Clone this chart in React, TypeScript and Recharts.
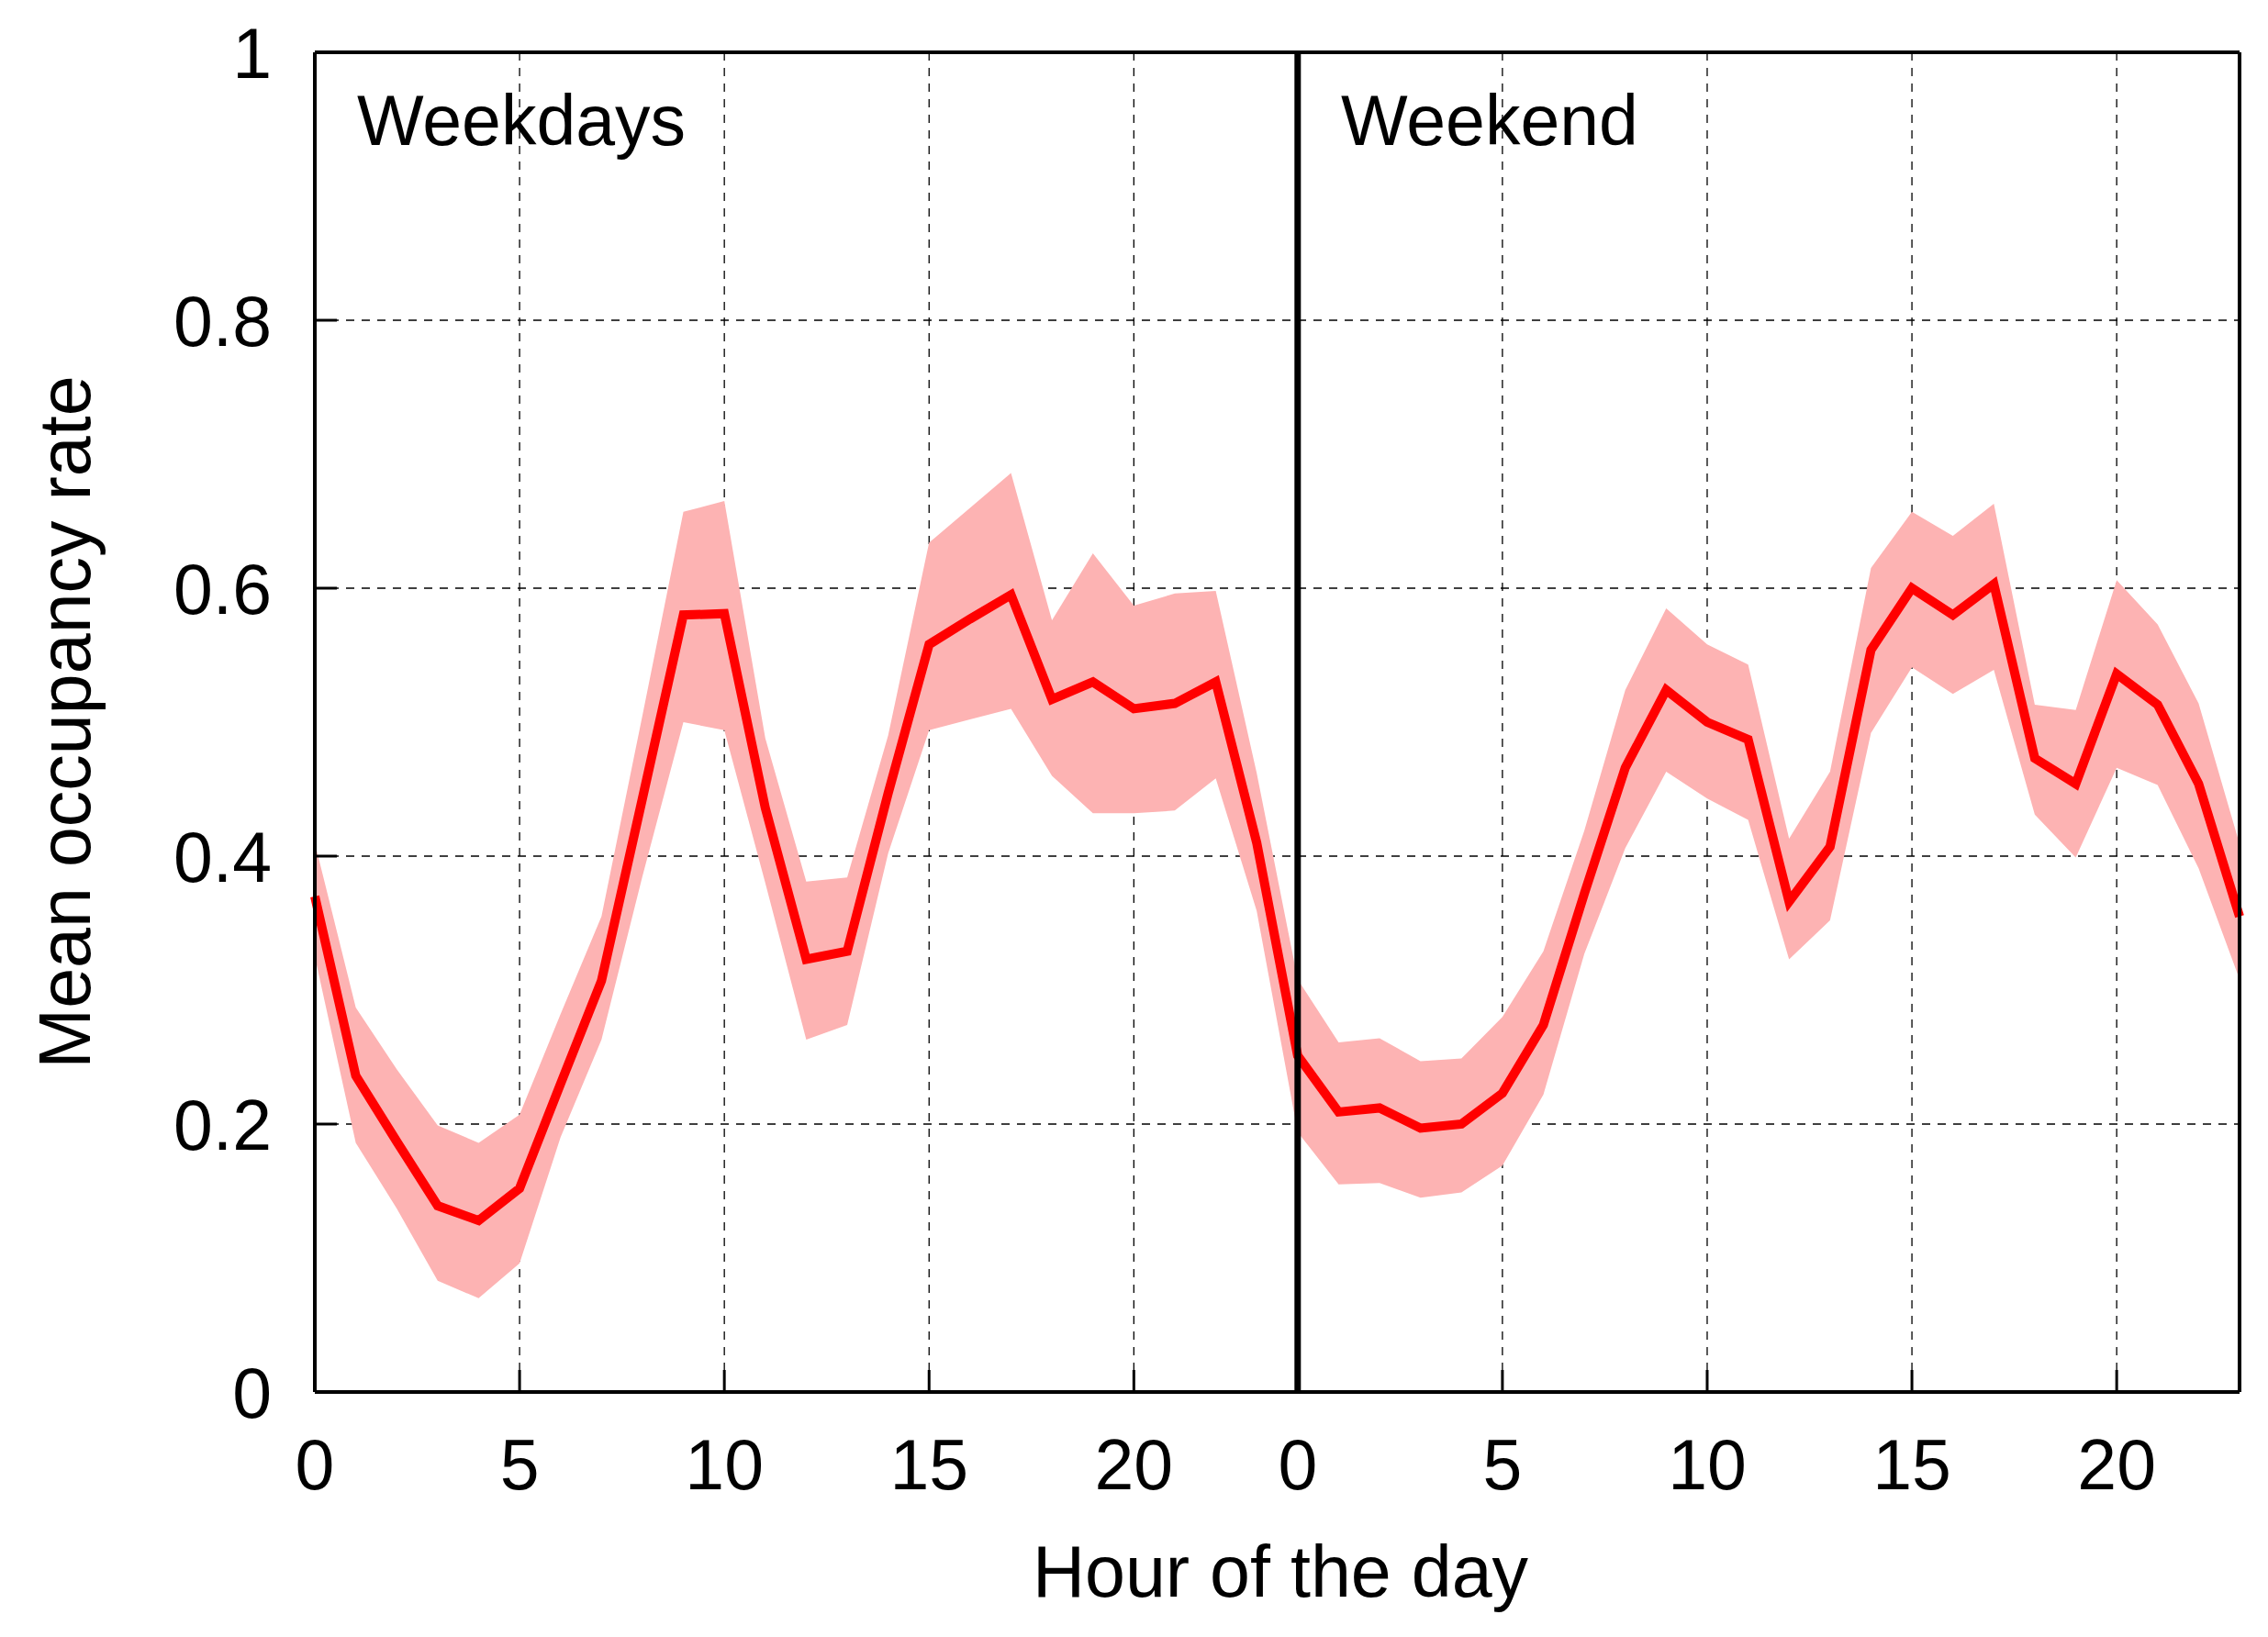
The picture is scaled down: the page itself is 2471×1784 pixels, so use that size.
import { ComposedChart, Line, Area, XAxis, YAxis, CartesianGrid, ReferenceLine } from "recharts";

// mean occupancy per hour, with the shaded spread (low / high)
const weekdayMean = [0.37, 0.236, 0.187, 0.139, 0.128, 0.152, 0.23, 0.307, 0.443, 0.58, 0.581, 0.436, 0.323, 0.329, 0.447, 0.558, 0.577, 0.595, 0.517, 0.53, 0.51, 0.514, 0.53, 0.41];
const weekdayHigh = [0.41, 0.287, 0.241, 0.199, 0.186, 0.207, 0.282, 0.355, 0.505, 0.657, 0.665, 0.488, 0.381, 0.384, 0.49, 0.634, 0.66, 0.686, 0.576, 0.626, 0.587, 0.596, 0.598, 0.462];
const weekdayLow = [0.325, 0.186, 0.137, 0.083, 0.07, 0.096, 0.19, 0.263, 0.385, 0.5, 0.494, 0.38, 0.263, 0.274, 0.402, 0.494, 0.502, 0.51, 0.46, 0.432, 0.432, 0.434, 0.458, 0.359];

const weekendMean = [0.251, 0.209, 0.212, 0.197, 0.2, 0.223, 0.274, 0.372, 0.466, 0.524, 0.5, 0.487, 0.366, 0.407, 0.554, 0.6, 0.58, 0.603, 0.473, 0.454, 0.536, 0.513, 0.454, 0.355];
const weekendHigh = [0.308, 0.261, 0.264, 0.247, 0.249, 0.28, 0.329, 0.419, 0.524, 0.585, 0.558, 0.543, 0.413, 0.463, 0.615, 0.657, 0.639, 0.663, 0.513, 0.509, 0.606, 0.573, 0.514, 0.409];
const weekendLow = [0.194, 0.155, 0.156, 0.145, 0.149, 0.169, 0.222, 0.327, 0.406, 0.463, 0.443, 0.427, 0.323, 0.352, 0.492, 0.541, 0.521, 0.539, 0.431, 0.399, 0.466, 0.453, 0.391, 0.308];

const xTicks = [0, 5, 10, 15, 20, 24, 29, 34, 39, 44];
const xTickLabels = ["0", "5", "10", "15", "20", "0", "5", "10", "15", "20"];
const yTicks = [0, 0.2, 0.4, 0.6, 0.8, 1];
const yTickLabels = ["0", "0.2", "0.4", "0.6", "0.8", "1"];

const data = [
  ...weekdayMean.map((m, i) => ({ x: i, mean: m, band: [weekdayLow[i], weekdayHigh[i]] })),
  ...weekendMean.map((m, i) => ({ x: weekdayMean.length + i, mean: m, band: [weekendLow[i], weekendHigh[i]] })),
];

const W = 2471;
const H = 1784;
const FONT = "'Liberation Sans', Arial, Helvetica, sans-serif";
const FS = 77;
const TICK = 24;

function LeftTick(props: any) {
  const { x, y, payload } = props;
  const label = yTickLabels[yTicks.indexOf(payload.value)];
  return (
    <g>
      <line x1={x} x2={x + TICK} y1={y} y2={y} stroke="#000" strokeWidth={3} />
      <text x={x - 47} y={y} dy="0.36em" textAnchor="end" fontFamily={FONT} fontSize={FS} fill="#000">
        {label}
      </text>
    </g>
  );
}

function RightTick(props: any) {
  const { x, y } = props;
  return <line x1={x} x2={x - TICK} y1={y} y2={y} stroke="#000" strokeWidth={3} />;
}

function BottomTick(props: any) {
  const { x, y, payload } = props;
  const label = xTickLabels[xTicks.indexOf(payload.value)];
  return (
    <g>
      <line x1={x} x2={x} y1={y} y2={y - TICK} stroke="#000" strokeWidth={3} />
      <text x={x} y={y + 106} textAnchor="middle" fontFamily={FONT} fontSize={FS} fill="#000">
        {label}
      </text>
    </g>
  );
}

const border = { stroke: "#000", strokeWidth: 4 };

export default function App() {
  return (
    <div style={{ position: "absolute", left: 0, top: 0, width: W, height: H, background: "#fff" }}>
      <ComposedChart width={W} height={H} data={data} margin={{ top: 56, right: 30, bottom: 167, left: 243 }}>
        <CartesianGrid stroke="#000" strokeWidth={1.3} strokeDasharray="9 8" />
        <Area
          type="linear"
          dataKey="band"
          stroke="none"
          fill="#fdb3b3"
          fillOpacity={1}
          isAnimationActive={false}
        />
        <Line
          type="linear"
          dataKey="mean"
          stroke="#ff0000"
          strokeWidth={10}
          dot={false}
          activeDot={false}
          isAnimationActive={false}
        />
        <ReferenceLine x={24} stroke="#000" strokeWidth={7} />
        <XAxis
          dataKey="x"
          type="number"
          domain={[0, 47]}
          ticks={xTicks}
          interval={0}
          height={100}
          tickSize={0}
          tickMargin={0}
          tickLine={false}
          axisLine={border}
          tick={<BottomTick />}
        />
        <XAxis xAxisId="top" orientation="top" type="number" domain={[0, 47]} height={1} tick={false} tickLine={false} axisLine={border} />
        <YAxis
          type="number"
          domain={[0, 1]}
          ticks={yTicks}
          interval={0}
          width={100}
          tickSize={0}
          tickMargin={0}
          tickLine={false}
          axisLine={border}
          tick={<LeftTick />}
        />
        <YAxis
          yAxisId="right"
          orientation="right"
          type="number"
          domain={[0, 1]}
          ticks={yTicks}
          interval={0}
          width={1}
          tickSize={0}
          tickMargin={0}
          tickLine={false}
          axisLine={border}
          tick={<RightTick />}
        />
        <g fontFamily={FONT} fontSize={FS} fill="#000">
          <text x={389} y={158}>Weekdays</text>
          <text x={1461} y={158}>Weekend</text>
          <text x={1395} y={1740} textAnchor="middle" fontSize={79}>Hour of the day</text>
          <text x={98} y={787} textAnchor="middle" fontSize={79} transform="rotate(-90 98 787)">Mean occupancy rate</text>
        </g>
      </ComposedChart>
    </div>
  );
}
